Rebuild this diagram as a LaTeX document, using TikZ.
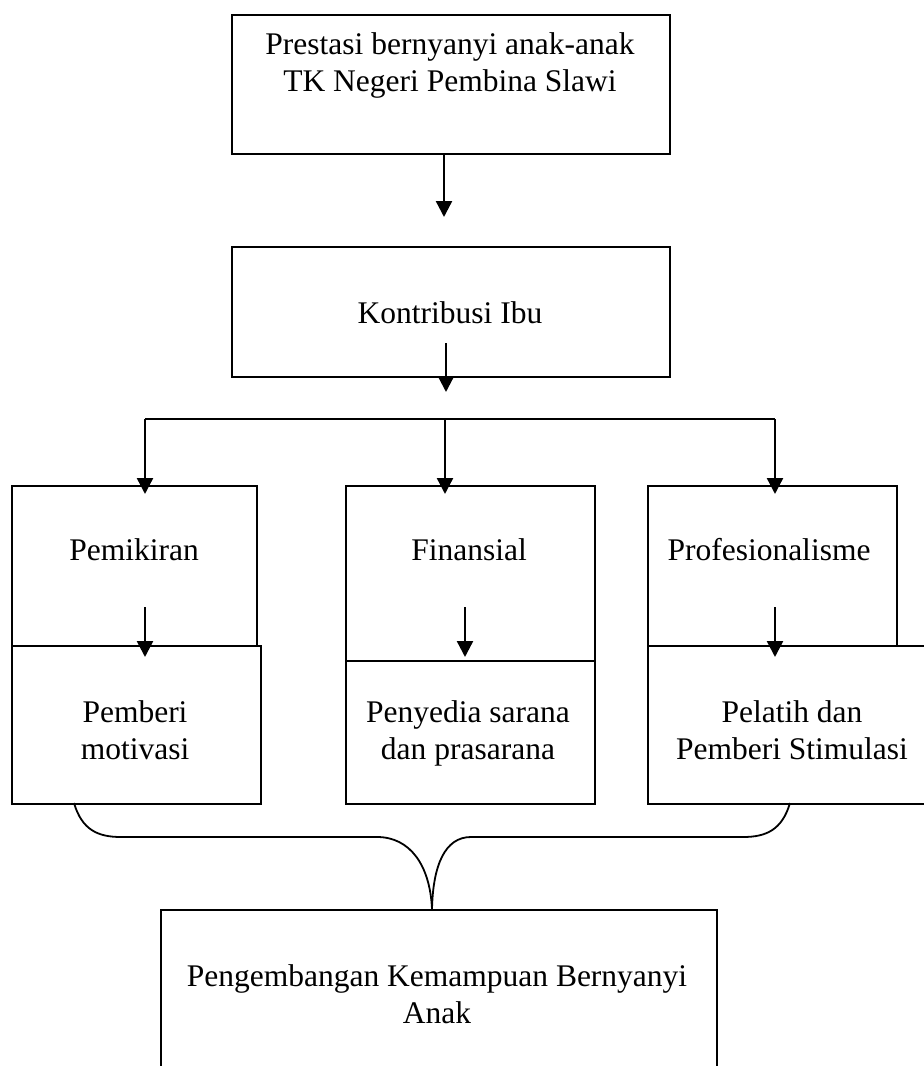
\documentclass[tikz,border=0pt]{standalone}
\usepackage{fontspec}
\setmainfont{Liberation Serif}
\usetikzlibrary{arrows.meta}

\begin{document}
\begin{tikzpicture}[x=1pt, y=-1pt]
\useasboundingbox (0,0) rectangle (924,1066);

\coordinate (A1_1) at (444, 217);
\coordinate (A2_1) at (446, 343);
\coordinate (A2_2) at (446, 392);
\coordinate (B_1) at (145, 419);
\coordinate (B_2) at (445, 419);
\coordinate (B_3) at (775, 419);
\coordinate (T_1) at (145, 494);
\coordinate (T_2) at (445, 494);
\coordinate (T_3) at (775, 494);
\coordinate (I1_1) at (145, 607);
\coordinate (I1_2) at (145, 657);
\coordinate (I2_1) at (465, 607);
\coordinate (I2_2) at (465, 657);
\coordinate (I3_1) at (775, 607);
\coordinate (I3_2) at (775, 657);
\coordinate (K_1) at (74, 803);
\coordinate (K_2) at (790, 803);
\coordinate (K_3) at (432, 909);


\tikzset{BoxStyle/.style = {
 shape = rectangle,
 draw = black,
 line width = 2.2pt,
 anchor = north west,
 inner sep = 0pt} }

\node[BoxStyle, minimum width=438, minimum height=139] (Prestasi) at (231, 14) {};
\node[BoxStyle, minimum width=438, minimum height=130] (Kontribusi) at (231, 246) {};
\node[BoxStyle, minimum width=245, minimum height=160] (Pemikiran) at (11, 485) {};
\node[BoxStyle, minimum width=249, minimum height=175] (Finansial) at (345, 485) {};
\node[BoxStyle, minimum width=249, minimum height=160] (Profesi) at (647, 485) {};
\node[BoxStyle, minimum width=249, minimum height=158] (Motivasi) at (11, 645) {};
\node[BoxStyle, minimum width=249, minimum height=143] (Sarana) at (345, 660) {};
\node[BoxStyle, minimum width=283, minimum height=158] (Pelatih) at (647, 645) {};
\node[BoxStyle, minimum width=556, minimum height=171] (Pengembangan) at (160, 909) {};


\tikzset{TextStyle/.style = {
 align = center,
 inner sep = 0pt,
 font = \fontsize{31.5}{37}\selectfont} }

\node[TextStyle] (L1) at (450, 65.7) {Prestasi bernyanyi anak-anak\\TK Negeri Pembina Slawi};
\node[TextStyle, anchor=base] (L2) at (450, 323) {Kontribusi Ibu};
\node[TextStyle, anchor=base] (L3) at (134, 560) {Pemikiran};
\node[TextStyle, anchor=base] (L4) at (469, 560) {Finansial};
\node[TextStyle, anchor=base] (L5) at (769, 560) {Profesionalisme};
\node[TextStyle] (L6) at (135, 730) {Pemberi\\motivasi};
\node[TextStyle] (L7) at (468, 733.7) {Penyedia sarana\\dan prasarana};
\node[TextStyle] (L8) at (792, 730) {Pelatih dan\\Pemberi Stimulasi};
\node[TextStyle] (L9) at (437, 994) {Pengembangan Kemampuan Bernyanyi\\Anak};


\tikzset{ArrowStyle/.style = {line width=2.4pt, -{Triangle[length=16pt, width=16pt]}} }

\draw[ArrowStyle] (Prestasi.south -| A1_1) -- (A1_1);
\draw[ArrowStyle] (A2_1) -- (A2_2);
\draw[line width=2.4pt] (B_1) -- (B_3);
\draw[ArrowStyle] (B_1) -- (T_1);
\draw[ArrowStyle] (B_2) -- (T_2);
\draw[ArrowStyle] (B_3) -- (T_3);
\draw[ArrowStyle] (I1_1) -- (I1_2);
\draw[ArrowStyle] (I2_1) -- (I2_2);
\draw[ArrowStyle] (I3_1) -- (I3_2);

\draw[line width=1.8pt] (K_1) .. controls (82, 830) and (98, 837) .. (121, 837)
  -- (377, 837) .. controls (410, 837) and (430, 865) .. (K_3);
\draw[line width=1.8pt] (K_2) .. controls (782, 830) and (766, 837) .. (743, 837)
  -- (471, 837) .. controls (445, 837) and (433, 865) .. (K_3);

\end{tikzpicture}
\end{document}
